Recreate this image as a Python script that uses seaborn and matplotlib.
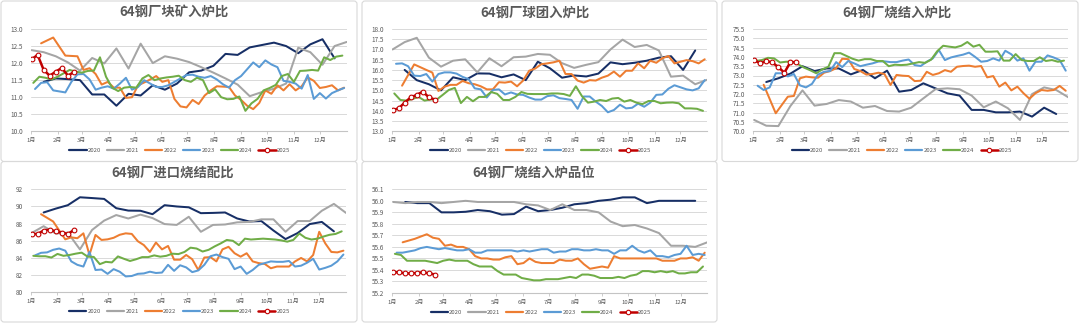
import numpy as np
import pandas as pd
import matplotlib
matplotlib.use("Agg")
import matplotlib.pyplot as plt
import seaborn as sns
from matplotlib.patches import FancyBboxPatch
from matplotlib.lines import Line2D

nan = np.nan
W, H = 1080, 323

YEARS = ["2020", "2021", "2022", "2023", "2024", "2025"]
COLORS = {"2020": "#172F66", "2021": "#A5A5A5", "2022": "#ED7D31",
          "2023": "#5B9BD5", "2024": "#70AD47", "2025": "#C00000"}
# first survey day of each year (day of year) and survey interval in days
FIRST_DAY = {"2020": 15, "2021": 1, "2022": 12, "2023": 5, "2024": 3, "2025": 1}
STEP_DAYS = {"2020": 14, "2021": 14, "2022": 7, "2023": 7, "2024": 7, "2025": 7}
MONTH_START = [0, 31, 59, 90, 120, 151, 181, 212, 243, 273, 304, 334]
MONTH_LABELS = [f"{m}月" for m in range(1, 13)]

# ---- 块矿入炉比 (%) ----
lump_2020 = [11.45, 11.55, 11.53, 11.50, 11.08, 11.08, 10.75, 11.10, 11.05, 11.35, 11.22, 11.40, 11.73,
             11.78, 11.92, 12.27, 12.24, 12.46, 12.53, 12.60, 12.50, 12.29, 12.55, 12.70, 12.14]
lump_2021 = [12.38, 12.32, 12.20, 12.02, 11.78, 12.15, 11.99, 12.43, 11.84, 12.57, 12.00, 12.20, 12.13,
             12.03, 11.88, 11.72, 11.55, 11.37, 11.03, 11.15, 11.25, 11.40, 12.45, 12.32, 11.95, 12.50, 12.62]
lump_2022 = [12.58, nan, 12.75, nan, 12.22, 12.21, 12.20, 11.80, 11.85, 11.68, 11.37, 11.45, 11.28, 11.28,
             10.98, 11.00, 11.35, 11.43, 11.52, 11.62, 11.45, 11.50, 10.95, 10.73, 10.70, 10.92, 10.80, 11.05,
             11.20, 11.32, 11.31, 11.30, 11.05, 10.92, 10.75, 10.65, 10.83, 11.20, 11.10, 11.35, 11.20, 11.38,
             11.20, 11.32, 11.58, 11.48, 11.27, 11.30, 11.35, 11.20, 11.28]
lump_2023 = [11.24, 11.42, 11.44, 11.20, 11.17, 11.14, 11.45, 11.67, 11.68, 11.52, 11.22, 11.28, 11.32,
             11.25, 11.40, 11.57, 11.22, 11.30, 11.50, 11.40, 11.30, 11.30, 11.35, 11.45, 11.55, 11.65,
             11.66, 11.60, 11.57, 11.62, 11.52, 11.38, 11.28, 11.50, 11.62, 11.82, 12.02, 11.88, 12.08,
             11.96, 11.88, 11.48, 11.45, 11.40, 11.25, 11.65, 10.95, 11.12, 10.96, 11.12, 11.20, 11.27]
lump_2024 = [11.42, 11.60, 11.57, 11.52, 11.60, 11.70, 11.80, 11.75, 11.72, 11.77, 11.78, 12.17, 11.60,
             11.28, 11.18, 11.28, 11.30, 11.28, 11.55, 11.65, 11.50, 11.55, 11.58, 11.60, 11.63, 11.50,
             11.45, 11.57, 11.50, 11.12, 11.23, 11.00, 10.94, 10.95, 11.02, 10.60, 10.82, 10.95, 11.20,
             11.27, 11.36, 11.62, 11.68, 11.45, 11.77, 11.78, 11.80, 11.78, 12.17, 12.09, 12.19, 12.22]
lump_2025 = [12.11, 12.24, 11.80, 11.63, 11.75, 11.86, 11.63, 11.74]

# ---- 球团入炉比 (%) ----
pellet_2020 = [16.00, 15.50, 15.30, 15.00, 15.64, 15.50, 15.83, 15.82, 15.64, 15.78, 15.50, 16.40, 16.08,
               15.62, 15.73, 15.68, 15.82, 16.37, 16.28, 16.35, 16.45, 16.60, 16.67, 16.00, 16.95]
pellet_2021 = [17.00, 17.36, 17.57, 16.60, 16.16, 16.45, 16.52, 15.88, 16.57, 16.18, 16.62, 16.65, 16.78,
               16.74, 16.33, 16.10, 16.25, 16.38, 17.00, 17.48, 17.12, 17.22, 16.95, 15.67, 15.72, 15.30, 15.52]
pellet_2022 = [15.23, nan, 16.27, nan, 16.00, 15.87, 14.97, 15.18, 15.27, 15.27, 15.46, 15.35, 15.30,
               15.20, 15.05, 15.05, 15.40, 15.38, 15.43, 15.20, 15.48, 15.96, 16.07, 16.28, 16.32, 16.37,
               16.45, 15.80, 15.80, 15.48, 15.38, 15.50, 15.48, 15.62, 15.72, 15.92, 15.67, 15.96, 15.96,
               16.32, 16.08, 16.45, 16.35, 16.57, 16.68, 16.32, 16.40, 16.48, 16.43, 16.32, 16.52]
pellet_2023 = [16.30, 16.32, 16.18, 15.72, 15.70, 15.80, 15.43, 15.80, 15.88, 15.88, 15.82, 15.66, 15.55,
               15.10, 15.05, 14.65, 15.02, 15.05, 14.80, 14.90, 14.80, 14.78, 14.65, 14.55, 14.55, 14.72,
               14.76, 14.62, 14.58, 14.53, 14.10, 14.70, 14.70, 14.45, 14.24, 13.93, 14.04, 14.30, 14.12,
               14.15, 14.35, 14.20, 14.40, 14.78, 14.80, 15.08, 15.25, 15.15, 15.05, 15.00, 15.10, 15.50]
pellet_2024 = [14.85, 14.53, 14.50, 14.58, 14.68, 14.50, 14.56, 14.55, 14.78, 15.02, 15.12, 14.38, 14.68,
               14.47, 14.68, 14.68, 14.92, 14.83, 14.53, 14.53, 14.68, 14.92, 14.83, 14.82, 14.82, 14.82,
               14.85, 14.85, 14.82, 14.73, 15.20, 14.72, 14.40, 14.45, 14.53, 14.48, 14.60, 14.63, 14.45,
               14.53, 14.40, 14.33, 14.48, 14.48, 14.37, 14.40, 14.41, 14.37, 14.12, 14.12, 14.10, 14.00]
pellet_2025 = [14.04, 14.12, 14.40, 14.66, 14.78, 14.94, 14.66, 14.55]

# ---- 烧结入炉比 (%) ----
sinter_2020 = [72.65, 72.85, 73.10, 73.50, 73.24, 73.38, 73.38, 73.06, 73.30, 72.85, 73.26, 72.13, 72.22,
               72.58, 72.31, 72.04, 71.92, 71.15, 71.15, 71.02, 71.02, 71.06, 70.79, 71.27, 70.93]
sinter_2021 = [70.61, 70.30, 70.28, 71.36, 72.20, 71.38, 71.47, 71.68, 71.60, 71.27, 71.36, 71.09, 71.06,
               71.27, 71.77, 72.26, 72.31, 72.26, 71.92, 71.29, 71.60, 71.24, 70.61, 72.00, 72.36, 72.22, 71.83]
sinter_2022 = [72.50, nan, 70.97, nan, 71.86, 71.90, 72.85, 72.94, 72.90, 72.88, 73.15, 73.24, 73.39,
               73.90, 73.88, 73.35, 73.24, 73.05, 73.08, 73.15, 73.08, 72.49, 73.03, 72.99, 72.97, 72.70,
               72.72, 73.20, 73.03, 73.12, 73.29, 73.20, 73.47, 73.51, 73.53, 73.47, 73.51, 72.90, 72.97,
               72.40, 72.62, 72.20, 72.40, 72.05, 71.75, 72.05, 72.22, 72.18, 72.22, 72.44, 72.18]
sinter_2023 = [72.45, 72.22, 72.36, 73.12, 73.12, 72.95, 73.08, 72.47, 72.36, 72.55, 73.05, 73.20, 73.24,
               73.72, 73.45, 73.78, 73.65, 73.50, 73.58, 73.65, 73.75, 73.76, 73.72, 73.72, 73.80, 73.86,
               73.56, 73.51, 73.74, 73.92, 74.37, 73.83, 73.97, 74.05, 74.12, 74.23, 74.00, 73.74, 73.78,
               73.92, 73.80, 74.33, 74.14, 73.80, 73.92, 73.26, 73.74, 73.74, 74.08, 73.97, 73.83, 73.26]
sinter_2024 = [73.78, 73.83, 73.95, 73.92, 73.70, 73.74, 73.74, 73.60, 73.42, 73.28, 73.12, 73.33, 73.47,
               74.20, 74.20, 74.05, 73.90, 73.80, 73.88, 73.88, 73.78, 73.78, 73.50, 73.58, 73.56, 73.58,
               73.65, 73.72, 73.68, 73.85, 74.30, 74.60, 74.55, 74.51, 74.60, 74.80, 74.55, 74.65, 74.28,
               74.28, 74.30, 73.80, 73.80, 74.15, 73.83, 73.78, 73.78, 73.98, 73.78, 73.83, 73.74, 73.80]
sinter_2025 = [73.83, 73.65, 73.78, 73.70, 73.45, 73.15, 73.72, 73.72]

# ---- 进口烧结配比 (%) ----
imp_2020 = [89.30, 89.75, 90.15, 91.07, 90.98, 90.88, 89.80, 89.52, 89.50, 89.10, 90.15, 90.00, 89.90,
            89.22, 89.25, 89.30, 88.60, 88.25, 88.30, 87.20, 86.20, 86.90, 87.95, 88.20, 87.10]
imp_2021 = [86.90, 87.70, 86.85, 86.95, 85.00, 87.26, 88.35, 89.00, 88.60, 89.05, 88.65, 87.95, 87.85,
            88.80, 87.05, 87.85, 87.90, 88.15, 88.20, 88.50, 88.50, 87.05, 88.30, 88.30, 89.50, 90.30, 89.25]
imp_2022 = [89.10, nan, 88.25, nan, 86.17, 86.40, 86.30, 86.87, 84.35, 86.68, 86.10, 86.17, 86.35, 86.70,
            86.87, 86.80, 85.95, 85.50, 84.70, 85.80, 85.00, 85.40, 83.80, 83.80, 84.35, 83.85, 82.60,
            84.05, 84.10, 83.60, 85.00, 85.30, 84.55, 84.15, 84.55, 83.60, 83.40, 83.30, 82.80, 83.00,
            83.00, 83.00, 83.60, 84.00, 83.60, 84.35, 87.05, 85.70, 84.70, 84.65, 84.85]
imp_2023 = [84.30, 84.60, 84.65, 84.95, 85.10, 84.85, 83.60, 83.20, 83.00, 84.70, 82.60, 82.65, 82.15,
            82.70, 82.40, 81.85, 81.90, 82.15, 82.20, 82.40, 82.25, 82.30, 83.20, 82.50, 83.15, 82.90,
            82.35, 82.55, 83.20, 84.20, 84.40, 84.10, 83.90, 82.70, 83.00, 82.15, 82.60, 83.20, 83.40,
            83.60, 83.55, 83.55, 83.65, 83.00, 83.10, 83.45, 83.90, 82.65, 82.85, 83.10, 83.60, 84.40]
imp_2024 = [84.25, 84.20, 84.20, 84.05, 84.47, 84.25, 84.35, 84.50, 84.62, 84.15, 84.12, 83.28, 83.55,
            83.48, 84.18, 83.90, 83.65, 83.85, 84.10, 84.10, 84.30, 84.15, 84.25, 84.50, 84.45, 84.70,
            85.20, 85.10, 84.75, 84.95, 85.35, 85.70, 86.10, 86.00, 85.50, 86.25, 86.15, 86.20, 86.25,
            86.20, 86.15, 86.05, 85.90, 86.10, 86.85, 86.35, 86.15, 86.25, 86.50, 86.70, 86.80, 87.10]
imp_2025 = [86.80, 86.80, 87.20, 87.30, 87.10, 86.95, 86.80, 87.25]

# ---- 烧结入炉品位 (%) ----
grade_2020 = [55.99, 55.98, 55.98, 55.90, 55.90, 55.905, 55.92, 55.91, 55.88, 55.885, 55.95, 55.91, 55.92,
              55.94, 55.97, 55.98, 56.00, 56.01, 56.03, 56.03, 55.98, 56.00, 56.00, 56.00, 56.00]
grade_2021 = [55.99, 55.98, 55.99, 55.99, 55.98, 55.99, 56.00, 55.99, 55.99, 55.99, 55.99, 55.97, 55.96,
              55.92, 55.97, 55.92, 55.92, 55.90, 55.82, 55.78, 55.79, 55.76, 55.72, 55.61, 55.61, 55.60, 55.64]
grade_2022 = [55.64, nan, 55.67, nan, 55.71, 55.68, 55.67, 55.61, 55.62, 55.60, 55.60, 55.58, 55.52,
              55.50, 55.50, 55.49, 55.49, 55.51, 55.52, 55.45, 55.46, 55.50, 55.47, 55.46, 55.46, 55.46,
              55.49, 55.48, 55.48, 55.50, 55.45, 55.41, 55.42, 55.43, 55.42, 55.52, 55.50, 55.50, 55.50,
              55.50, 55.50, 55.50, 55.50, 55.48, 55.48, 55.48, 55.50, 55.50, 55.51, 55.48, 55.55]
grade_2023 = [55.55, 55.55, 55.56, 55.57, 55.59, 55.60, 55.59, 55.58, 55.59, 55.58, 55.57, 55.57, 55.58,
              55.55, 55.55, 55.57, 55.57, 55.57, 55.57, 55.57, 55.56, 55.57, 55.56, 55.57, 55.58, 55.58,
              55.55, 55.56, 55.56, 55.58, 55.58, 55.57, 55.57, 55.58, 55.57, 55.57, 55.54, 55.57, 55.57,
              55.61, 55.57, 55.55, 55.57, 55.52, 55.52, 55.51, 55.53, 55.54, 55.61, 55.53, 55.54, 55.53]
grade_2024 = [55.54, 55.53, 55.48, 55.48, 55.48, 55.48, 55.47, 55.46, 55.48, 55.49, 55.48, 55.48, 55.48,
              55.45, 55.43, 55.43, 55.43, 55.39, 55.36, 55.36, 55.36, 55.33, 55.32, 55.31, 55.31, 55.32,
              55.32, 55.32, 55.33, 55.34, 55.33, 55.36, 55.36, 55.35, 55.33, 55.33, 55.33, 55.34, 55.33,
              55.35, 55.36, 55.39, 55.39, 55.38, 55.39, 55.38, 55.39, 55.37, 55.37, 55.38, 55.38, 55.43]
grade_2025 = [55.38, 55.38, 55.37, 55.37, 55.375, 55.38, 55.37, 55.36]

PANELS = [
    dict(title="64钢厂块矿入炉比", ylim=(10.0, 13.0), ystep=0.5, fmt="{:.1f}",
         data=[lump_2020, lump_2021, lump_2022, lump_2023, lump_2024, lump_2025],
         axes_px=(30.7, 29.0, 346.7, 131.3), frame_px=(1, 1, 357, 161.5), title_px=(174, 12.3)),
    dict(title="64钢厂球团入炉比", ylim=(13.0, 18.0), ystep=0.5, fmt="{:.1f}",
         data=[pellet_2020, pellet_2021, pellet_2022, pellet_2023, pellet_2024, pellet_2025],
         axes_px=(391.7, 29.0, 707.3, 131.3), frame_px=(362, 1, 717, 161.5), title_px=(535, 12.3)),
    dict(title="64钢厂烧结入炉比", ylim=(70.0, 75.5), ystep=0.5, fmt="{:.1f}",
         data=[sinter_2020, sinter_2021, sinter_2022, sinter_2023, sinter_2024, sinter_2025],
         axes_px=(753.3, 29.0, 1068.3, 131.3), frame_px=(722, 1, 1078, 161.5), title_px=(897, 12.3)),
    dict(title="64钢厂进口烧结配比", ylim=(80, 92), ystep=2, fmt="{:.0f}",
         data=[imp_2020, imp_2021, imp_2022, imp_2023, imp_2024, imp_2025],
         axes_px=(30.7, 189.3, 346.0, 292.3), frame_px=(1, 161.5, 357, 322), title_px=(172.5, 172.3)),
    dict(title="64钢厂烧结入炉品位", ylim=(55.2, 56.1), ystep=0.1, fmt="{:.1f}",
         data=[grade_2020, grade_2021, grade_2022, grade_2023, grade_2024, grade_2025],
         axes_px=(392.3, 189.3, 707.3, 293.0), frame_px=(362, 161.5, 717, 322), title_px=(534, 172.3)),
]

TEXT = "#595959"
GRID = "#D9D9D9"

sns.set_theme(style="white")
plt.rcParams["font.family"] = ["Noto Sans CJK SC", "DejaVu Sans"]


def long_frame(series_list):
    parts = []
    for year, vals in zip(YEARS, series_list):
        days = FIRST_DAY[year] + STEP_DAYS[year] * np.arange(len(vals))
        parts.append(pd.DataFrame({"year": year, "day": days, "value": vals}))
    return pd.concat(parts, ignore_index=True).dropna()


fig = plt.figure(figsize=(W / 100, H / 100), dpi=100)
fig.patch.set_facecolor("white")

for p in PANELS:
    x0, y0, x1, y1 = p["frame_px"]
    fig.add_artist(FancyBboxPatch((x0 / W, 1 - y1 / H), (x1 - x0) / W, (y1 - y0) / H,
                                  boxstyle=f"round,pad=0,rounding_size={3 / W}",
                                  mutation_aspect=W / H, transform=fig.transFigure,
                                  facecolor="none", edgecolor=GRID, linewidth=0.8))

    l, t, r, b = p["axes_px"]
    ax = fig.add_axes([l / W, 1 - b / H, (r - l) / W, (b - t) / H])
    ax.set_facecolor("none")

    df = long_frame(p["data"])
    hist = df[df["year"] != "2025"]
    cur = df[df["year"] == "2025"]
    sns.lineplot(data=hist, x="day", y="value", hue="year", hue_order=YEARS[:5],
                 palette={y: COLORS[y] for y in YEARS[:5]}, estimator=None, sort=False,
                 linewidth=1.45, legend=False, ax=ax, solid_joinstyle="round")
    sns.lineplot(data=cur, x="day", y="value", color=COLORS["2025"], estimator=None, sort=False,
                 linewidth=1.8, marker="o", markersize=3.4, markerfacecolor="white",
                 markeredgecolor=COLORS["2025"], markeredgewidth=0.8, legend=False, ax=ax)

    lo, hi = p["ylim"]
    yt = np.round(np.arange(lo, hi + p["ystep"] / 2, p["ystep"]), 3)
    ax.set_xlim(0, 365)
    ax.set_ylim(lo, hi)
    ax.set_yticks(yt)
    ax.set_yticklabels([p["fmt"].format(v) for v in yt])
    ax.set_xticks(MONTH_START)
    ax.set_xticklabels(MONTH_LABELS)
    ax.set_xlabel("")
    ax.set_ylabel("")
    ax.set_axisbelow(True)
    ax.grid(axis="y", color=GRID, linewidth=0.7)
    ax.grid(axis="x", visible=False)
    for s in ("top", "right", "left"):
        ax.spines[s].set_visible(False)
    ax.spines["bottom"].set_color("#C4C4C4")
    ax.spines["bottom"].set_linewidth(0.8)
    ax.tick_params(axis="y", length=0, pad=5.8, labelsize=4.6, labelcolor=TEXT)
    ax.tick_params(axis="x", length=2.5, width=0.6, color="#C4C4C4", pad=2.2,
                   labelsize=4.3, labelcolor=TEXT, bottom=True)

    handles = [Line2D([], [], color=COLORS[y], linewidth=1.6) for y in YEARS[:5]]
    handles.append(Line2D([], [], color=COLORS["2025"], linewidth=1.8, marker="o", markersize=3.2,
                          markerfacecolor="white", markeredgecolor=COLORS["2025"], markeredgewidth=0.8))
    ax.legend(handles, YEARS, loc="center", bbox_to_anchor=(0.472, -19.0 / (b - t)), ncol=6,
              frameon=False, fontsize=4.3, handlelength=2.9, handletextpad=0.2,
              columnspacing=1.0, borderaxespad=0, labelcolor=TEXT)

    tx, ty = p["title_px"]
    fig.text(tx / W, 1 - ty / H, p["title"], ha="center", va="center", fontsize=9.6,
             fontweight="bold", color=TEXT)

fig.savefig("out.png", dpi=100, facecolor="white")
